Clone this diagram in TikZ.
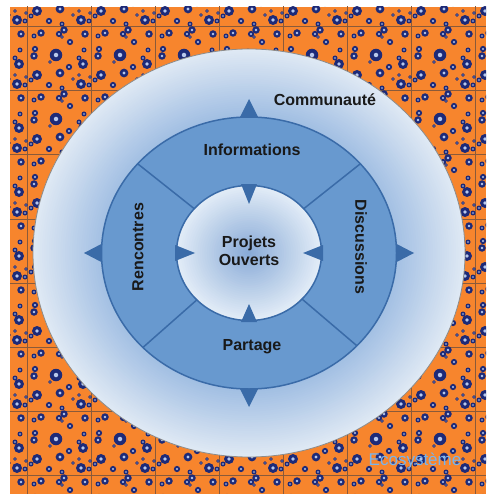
\documentclass[tikz,border=0pt]{standalone}
\usepackage{fontspec}
\setsansfont{Liberation Sans}
\usetikzlibrary{calc}
\definecolor{eco}{HTML}{F7852D}
\definecolor{ecoline}{HTML}{8A5A3A}
\definecolor{bubble}{HTML}{1D2A78}
\definecolor{bubblelight}{HTML}{B8C8EC}
\definecolor{ring}{HTML}{6899CF}
\definecolor{ringline}{HTML}{3A6BA8}
\definecolor{ecotext}{HTML}{78B4EE}
\definecolor{commin}{HTML}{A2BFE3}
\definecolor{commout}{HTML}{DFE9F4}
\definecolor{projin}{HTML}{89ABD7}
\definecolor{projout}{HTML}{E2ECF7}
\tikzset{
  label/.style = {font=\sffamily\bfseries\fontsize{16}{18}\selectfont, text=black!90, inner sep=0pt},
  divider/.style = {draw=ringline, line width=1.5pt}
}
% one tile of bubbles: x/y/radius
\def\bubbles{14/6/3, 37/3/3, 32/7/2.5, 58/7/3, 7/9/2, 35/10/1.5, 43/15/2.5, 8/22/2.5, 57/23/2, 7/29/3, 29/28/5, 52/31/2, 23/35/1.5, 56/37/4, 42/40/2.5, 33/46/3.5, 52/48/1.5, 10/48/4, 63/50/1.5, 46/52/1.5, 4/53/2, 22/58/2.5, 54/57/4, 35/61/2, 62/58/2}
\def\pointer(#1:#2:#3:#4);%
{
  \fill[ringline] ($(c)+(#1:#2)$) -- ($(c)+(#1:#3)+(#1+90:#4)$) -- ($(c)+(#1:#3)+(#1-90:#4)$) -- cycle;
}

\begin{document}
\begin{tikzpicture}[x=1pt,y=-1pt]
  \useasboundingbox (0,0) rectangle (486,494);
  \coordinate (c) at (249,253);
  % ecosystem
  \begin{scope}
    \clip (10,7) rectangle (486,494);
    \fill[eco] (10,7) rectangle (486,494);
    \foreach \X in {0,...,8} { \draw[ecoline, line width=1pt] (27+64*\X,0) -- +(0,494); };
    \foreach \Y in {0,...,8} { \draw[ecoline, line width=1pt] (0,27+64*\Y) -- +(486,0); };
    \foreach \X in {0,...,8} {
      \foreach \Y in {0,...,8} {
        \foreach \bx/\by/\br in \bubbles {
          \fill[bubble] (-37+64*\X+\bx,-37+64*\Y+\by) circle (1.25*\br pt);
          \fill[bubblelight] (-37+64*\X+\bx,-37+64*\Y+\by) circle (0.45*\br pt);
        }
      }
    }
  \end{scope}
  % community
  \foreach \k in {0,...,30} {
    \pgfmathsetmacro\f{1-0.32*\k/30}
    \pgfmathsetmacro\p{100*\k/30}
    \fill[commin!\p!commout] (c) ellipse [x radius=216*\f pt, y radius=204*\f pt];
  };
  \draw[black!45, line width=0.8pt] (c) ellipse [x radius=216pt, y radius=204pt];
  \pointer(90:154:128:13);
  \pointer(270:154:128:13);
  \pointer(180:165:140:13);
  \pointer(0:165:140:13);
  % ring
  \fill[ring, draw=ringline, line width=1.5pt] (c) ellipse [x radius=147.5pt, y radius=136pt];
  \foreach \k in {0,...,30} {
    \pgfmathsetmacro\f{1-0.97*\k/30}
    \pgfmathsetmacro\p{100*\k/30}
    \fill[projin!\p!projout] (c) ellipse [x radius=72.5*\f pt, y radius=67.5*\f pt];
  };
  \draw[ringline, line width=1.5pt] (c) ellipse [x radius=72.5pt, y radius=67.5pt];
  \foreach \a in {43,136,221,319} { \draw[divider] ($(c)+(\a:72.5 and 67.5)$) -- ($(c)+(\a:147.5 and 136)$); };
  \pointer(90:51:69:8);
  \pointer(270:49:69:8);
  \pointer(180:54:74:8);
  \pointer(0:54:74:8);
  % labels
  \node[label] (comm) at (325,100) {Communauté};
  \node[label] (info) at (252,150) {Informations};
  \node[label] (part) at (252,347) {Partage};
  \node[label, align=center] (proj) at (249,251) {Projets\\Ouverts};
  \node[label, rotate=90] (renc) at (138,247) {Rencontres};
  \node[label, rotate=-90] (disc) at (361,247) {Discussions};
  \node[font=\sffamily\fontsize{17}{20}\selectfont, text=ecotext, inner sep=0pt] (eco) at (415,461) {Ecosystème};
\end{tikzpicture}
\end{document}
